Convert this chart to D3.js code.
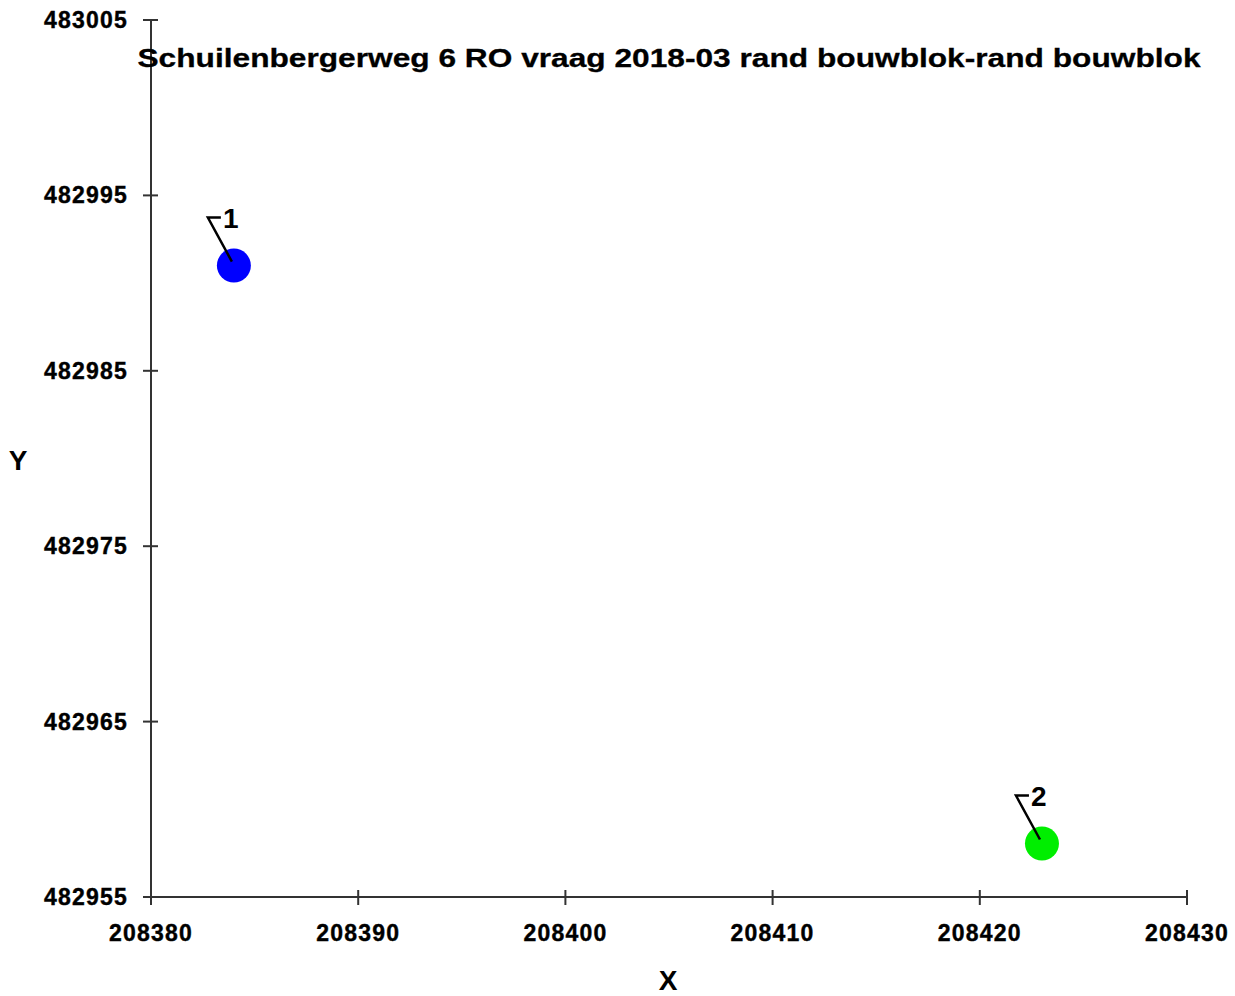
<!DOCTYPE html>
<html>
<head>
<meta charset="utf-8">
<script src="https://cdn.jsdelivr.net/npm/d3@7"></script>
<style>
  body { margin: 0; background: #fff; }
  svg text { font-family: "Liberation Sans", Arial, sans-serif; font-weight: bold; fill: #000; }
</style>
</head>
<body>
<svg width="1235" height="996"></svg>
<script>
// data
const pointIds = ["1", "2"];
const pointX = [208384, 208423];
const pointY = [482991.0, 482958.05];
const pointColors = ["#0000ff", "#00ee00"];
const xTicks = [208380, 208390, 208400, 208410, 208420, 208430];
const yTicks = [482955, 482965, 482975, 482985, 482995, 483005];
const title = "Schuilenbergerweg 6 RO vraag 2018-03 rand bouwblok-rand bouwblok";

const svg = d3.select("svg");

const x = d3.scaleLinear().domain([208380, 208430]).range([151, 1187]);
const y = d3.scaleLinear().domain([482955, 483005]).range([897, 20]);

// y axis
const yAxis = svg.append("g");
yAxis.append("line")
    .attr("x1", x(208380)).attr("x2", x(208380))
    .attr("y1", y(483005)).attr("y2", y(482955))
    .attr("stroke", "#333").attr("stroke-width", 2);
yAxis.selectAll(".tick")
    .data(yTicks)
    .enter().append("line")
    .attr("x1", x(208380) - 8).attr("x2", x(208380) + 7)
    .attr("y1", d => y(d)).attr("y2", d => y(d))
    .attr("stroke", "#333").attr("stroke-width", 2);
yAxis.selectAll("text")
    .data(yTicks)
    .enter().append("text")
    .attr("x", 128)
    .attr("y", d => y(d) + 8)
    .attr("text-anchor", "end")
    .attr("font-size", 23)
    .attr("letter-spacing", 1.2)
    .attr("stroke", "#000").attr("stroke-width", 0.4)
    .text(d => d);

// x axis
const xAxis = svg.append("g");
xAxis.append("line")
    .attr("x1", x(208380)).attr("x2", x(208430))
    .attr("y1", y(482955)).attr("y2", y(482955))
    .attr("stroke", "#333").attr("stroke-width", 2);
xAxis.selectAll(".tick")
    .data(xTicks)
    .enter().append("line")
    .attr("x1", d => x(d)).attr("x2", d => x(d))
    .attr("y1", y(482955) - 7).attr("y2", y(482955) + 8)
    .attr("stroke", "#333").attr("stroke-width", 2);
xAxis.selectAll("text")
    .data(xTicks)
    .enter().append("text")
    .attr("x", d => x(d))
    .attr("y", 941)
    .attr("text-anchor", "middle")
    .attr("font-size", 23)
    .attr("letter-spacing", 1.2)
    .attr("stroke", "#000").attr("stroke-width", 0.4)
    .text(d => d);

// axis titles
svg.append("text")
    .attr("x", 18).attr("y", 470)
    .attr("text-anchor", "middle")
    .attr("font-size", 28)
    .text("Y");
svg.append("text")
    .attr("x", 668).attr("y", 990)
    .attr("text-anchor", "middle")
    .attr("font-size", 28)
    .text("X");

// title
svg.append("text")
    .attr("x", 669).attr("y", 67)
    .attr("text-anchor", "middle")
    .attr("font-size", 26)
    .attr("textLength", 1063)
    .attr("lengthAdjust", "spacingAndGlyphs")
    .attr("stroke", "#000").attr("stroke-width", 0.3)
    .text(title);

// points
const pts = pointIds.map((id, i) => ({ id, x: pointX[i], y: pointY[i], color: pointColors[i] }));

svg.append("g").selectAll("circle")
    .data(pts)
    .enter().append("circle")
    .attr("cx", d => x(d.x))
    .attr("cy", d => y(d.y))
    .attr("r", 17)
    .attr("fill", d => d.color);

// leader lines
svg.append("g").selectAll("path")
    .data(pts)
    .enter().append("path")
    .attr("d", d => {
        const cx = x(d.x), cy = y(d.y);
        return `M${cx - 2},${cy - 4} L${cx - 26},${cy - 48} L${cx - 13},${cy - 48}`;
    })
    .attr("fill", "none")
    .attr("stroke", "#000")
    .attr("stroke-width", 2.5);

svg.append("g").selectAll("text")
    .data(pts)
    .enter().append("text")
    .attr("x", d => x(d.x) - 11)
    .attr("y", d => y(d.y) - 38)
    .attr("font-size", 28)
    .text(d => d.id);
</script>
</body>
</html>
